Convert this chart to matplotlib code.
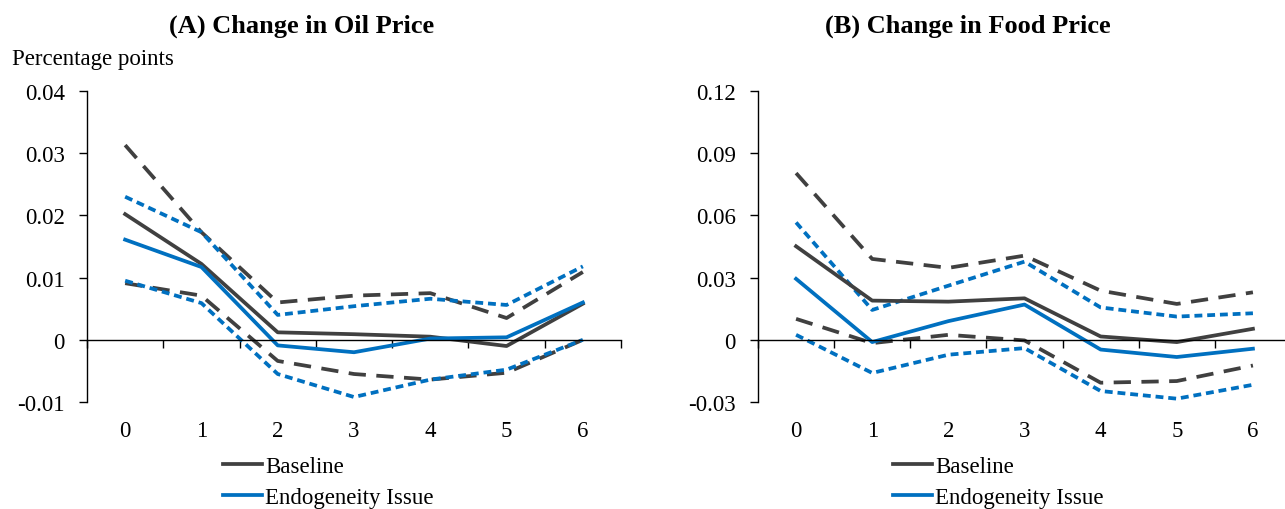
import matplotlib
matplotlib.use("Agg")
import matplotlib.pyplot as plt
from matplotlib.lines import Line2D

# horizon (years after shock)
horizon = [0, 1, 2, 3, 4, 5, 6]

# (A) oil price
oil_base = [0.0202, 0.0122, 0.0012, 0.0009, 0.0005, -0.0010, 0.0058]
oil_base_hi = [0.0313, 0.0173, 0.0060, 0.0071, 0.0075, 0.0035, 0.0109]
oil_base_lo = [0.0091, 0.0071, -0.0034, -0.0055, -0.0064, -0.0053, 0.0000]
oil_endo = [0.0161, 0.0117, -0.0009, -0.0020, 0.0002, 0.0004, 0.0060]
oil_endo_hi = [0.0230, 0.0173, 0.0040, 0.0054, 0.0066, 0.0056, 0.0118]
oil_endo_lo = [0.0095, 0.0059, -0.0055, -0.0092, -0.0064, -0.0048, 0.0000]

# (B) food price
food_base = [0.0451, 0.0189, 0.0184, 0.0200, 0.0016, -0.0011, 0.0053]
food_base_hi = [0.0804, 0.0390, 0.0347, 0.0406, 0.0237, 0.0173, 0.0229]
food_base_lo = [0.0101, -0.0016, 0.0024, -0.0003, -0.0207, -0.0199, -0.0124]
food_endo = [0.0294, -0.0011, 0.0090, 0.0170, -0.0047, -0.0083, -0.0043]
food_endo_hi = [0.0566, 0.0144, 0.0261, 0.0377, 0.0156, 0.0112, 0.0128]
food_endo_lo = [0.0024, -0.0160, -0.0072, -0.0040, -0.0247, -0.0284, -0.0217]

oil_ticks = [-0.01, 0, 0.01, 0.02, 0.03, 0.04]
oil_labels = ["-0.01", "0", "0.01", "0.02", "0.03", "0.04"]
food_ticks = [-0.03, 0, 0.03, 0.06, 0.09, 0.12]
food_labels = ["-0.03", "0", "0.03", "0.06", "0.09", "0.12"]

DARK = "#404040"
BLUE = "#0070C0"
FS = 16.5

plt.rcParams["font.family"] = ["Liberation Serif", "DejaVu Serif"]

W, H = 1285, 510
fig = plt.figure(figsize=(W / 100, H / 100), dpi=100)


def px_axes(x0, x1, y_top, y_bot):
    return fig.add_axes([x0 / W, (H - y_bot) / H, (x1 - x0) / W, (y_bot - y_top) / H])


def draw_panel(ax, base, base_hi, base_lo, endo, endo_hi, endo_lo, ticks, labels, title, title_x):
    x = [h + 0.5 for h in horizon]
    lw = 2.7
    ax.plot(x, base_hi, color=DARK, lw=lw, dashes=(4.6, 2.8))
    ax.plot(x, base_lo, color=DARK, lw=lw, dashes=(4.6, 2.8))
    ax.plot(x, endo_hi, color=BLUE, lw=lw, dashes=(2.1, 1.3))
    ax.plot(x, endo_lo, color=BLUE, lw=lw, dashes=(2.1, 1.3))
    ax.plot(x, base, color=DARK, lw=lw)
    ax.plot(x, endo, color=BLUE, lw=lw)

    ax.set_xlim(0, 7)
    ax.set_ylim(ticks[0], ticks[-1])
    ax.set_yticks(ticks)
    ax.set_yticklabels(labels, fontsize=FS)
    ax.set_xticks(range(8))
    ax.set_xticklabels([])
    ax.tick_params(axis="y", direction="out", length=6, width=1, pad=10)
    ax.tick_params(axis="x", direction="out", length=6, width=1)
    for s in ["top", "right"]:
        ax.spines[s].set_visible(False)
    ax.spines["left"].set_linewidth(1)
    # x tick marks hang from the zero line, labels sit at the bottom
    ax.spines["bottom"].set_position(("data", 0))
    ax.spines["bottom"].set_linewidth(1)
    for h, xi in zip(horizon, x):
        ax.text(xi, -0.093, str(h), transform=ax.get_xaxis_transform(),
                ha="center", va="center", fontsize=FS)
    fig.text(title_x / W, 1 - 26 / H, title, ha="center", va="center",
             fontsize=19, fontweight="bold")

    return [Line2D([], [], color=DARK, lw=lw), Line2D([], [], color=BLUE, lw=lw)]


ax1 = px_axes(87, 621, 92, 403)
h = draw_panel(ax1, oil_base, oil_base_hi, oil_base_lo, oil_endo, oil_endo_hi, oil_endo_lo,
               oil_ticks, oil_labels, "(A) Change in Oil Price", 302)
ax2 = px_axes(758, 1291, 92, 403)
draw_panel(ax2, food_base, food_base_hi, food_base_lo, food_endo, food_endo_hi, food_endo_lo,
           food_ticks, food_labels, "(B) Change in Food Price", 968)

fig.text(12 / W, 1 - 60 / H, "Percentage points", ha="left", va="center", fontsize=FS)

for lx in (223, 893):
    fig.legend(h, ["Baseline", "Endogeneity Issue"], loc="upper left",
               bbox_to_anchor=(lx / W, 1 - 457 / H), frameon=False, fontsize=FS,
               handlelength=1.7, handletextpad=0.15, labelspacing=0.45,
               borderpad=0, borderaxespad=0)

fig.savefig("out.png", dpi=100)
